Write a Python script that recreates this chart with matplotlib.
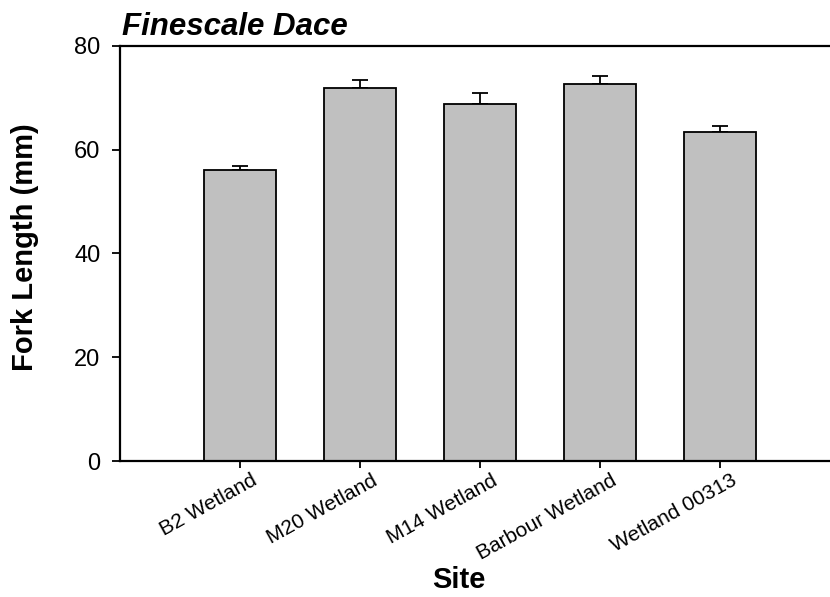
import matplotlib
matplotlib.use("Agg")
import matplotlib.pyplot as plt
import matplotlib.transforms as mtransforms

plt.rcParams['font.family'] = ['Liberation Sans', 'DejaVu Sans']

sites = ["B2 Wetland", "M20 Wetland", "M14 Wetland", "Barbour Wetland", "Wetland 00313"]
mean_length = [56.1, 71.9, 68.8, 72.6, 63.3]
se_length = [0.8, 1.5, 2.0, 1.6, 1.3]
y_ticks = [0, 20, 40, 60, 80]

fig = plt.figure(figsize=(8.3, 5.97), dpi=100)
ax = fig.add_axes([120/830, 1 - 461/597, 720/830, (461 - 45.7)/597])

x = list(range(len(sites)))
ax.bar(x, mean_length, width=0.6, color="#c0c0c0", edgecolor="black", linewidth=1.3, zorder=2)
ax.errorbar(x, mean_length, yerr=[[0]*len(se_length), se_length], fmt="none",
            ecolor="black", elinewidth=1.3, capsize=6, capthick=1.3, zorder=1)

ax.set_xlim(-1, 5)
ax.set_ylim(0, 80)
ax.set_yticks(y_ticks)
ax.set_xticks(x)
ax.set_xticklabels([])

# slanted site names, anchored a little right of and below each tick
label_tf = mtransforms.offset_copy(ax.get_xaxis_transform(), fig=fig, x=11, y=-10, units="dots")
for xi, name in zip(x, sites):
    ax.text(xi, 0, name, transform=label_tf, rotation=29, rotation_mode="anchor",
            ha="right", va="top", fontsize=15, clip_on=False)

ax.tick_params(axis="y", direction="out", length=6, width=1.3, labelsize=17, pad=8)
ax.tick_params(axis="x", direction="out", length=5, width=1.3)
for side in ["left", "bottom", "top", "right"]:
    ax.spines[side].set_linewidth(1.6)

fig.text(122/830, 1 - 35/597, "Finescale Dace", fontsize=22.5, fontweight="bold",
         fontstyle="italic", ha="left", va="baseline")
fig.text(459/830, 1 - 588/597, "Site", fontsize=21, fontweight="bold", ha="center", va="baseline")
fig.text(25/830, 1 - 247/597, "Fork Length (mm)", fontsize=21, fontweight="bold",
         rotation=90, ha="center", va="center")

fig.savefig("out.png", dpi=100)
